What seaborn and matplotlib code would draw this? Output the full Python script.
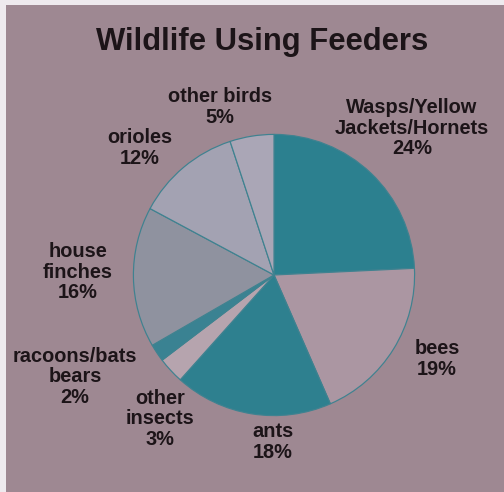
import matplotlib
matplotlib.use("Agg")
import matplotlib.pyplot as plt
import seaborn as sns
from matplotlib.patches import Rectangle

sns.set_style("white")
plt.rcParams["font.family"] = ["Liberation Sans", "DejaVu Sans"]

labels = ["Wasps/Yellow\nJackets/Hornets", "bees", "ants", "other\ninsects",
          "racoons/bats\nbears", "house\nfinches", "orioles", "other birds"]
shares = [24, 19, 18, 3, 2, 16, 12, 5]
colors = ["#2c808f", "#ab96a2", "#2e808f", "#b6a4ae",
          "#3a8292", "#8f929f", "#a3a2b2", "#aaa6b6"]
# label centres in picture pixels (x, y from top)
label_xy = [(412, 128), (437, 359), (273, 442), (160, 419),
            (75, 377), (78, 272), (140, 148), (220, 107)]

W, H = 504, 492
fig = plt.figure(figsize=(W / 72, H / 72), dpi=72)
fig.patch.set_facecolor("#eeeaee")
fig.patches.append(Rectangle((6 / W, 0), 1, 1 - 5 / H, transform=fig.transFigure,
                             facecolor="#9e8892", edgecolor="none", zorder=-5))

cx, cy, r = 274, 275, 142
ax = fig.add_axes([(cx - r) / W, 1 - (cy + r) / H, 2 * r / W, 2 * r / H])
ax.set_zorder(2)
ax.patch.set_alpha(0)
ax.pie(shares, colors=colors, startangle=90, counterclock=False,
       wedgeprops=dict(edgecolor="#3f8290", linewidth=1.2))
ax.set_xlim(-1.01, 1.01)
ax.set_ylim(-1.01, 1.01)
ax.set_aspect("equal")
ax.axis("off")

fig.text(262 / W, 1 - 42 / H, "Wildlife Using Feeders", ha="center", va="center",
         fontsize=31, fontweight="bold", color="#1c1418")

for lab, pct, (x, y) in zip(labels, shares, label_xy):
    fig.text(x / W, 1 - y / H, f"{lab}\n{pct}%", ha="center", va="center",
             fontsize=20, fontweight="bold", color="#1c1418", linespacing=1.12)

fig.savefig("out.png", dpi=72)
